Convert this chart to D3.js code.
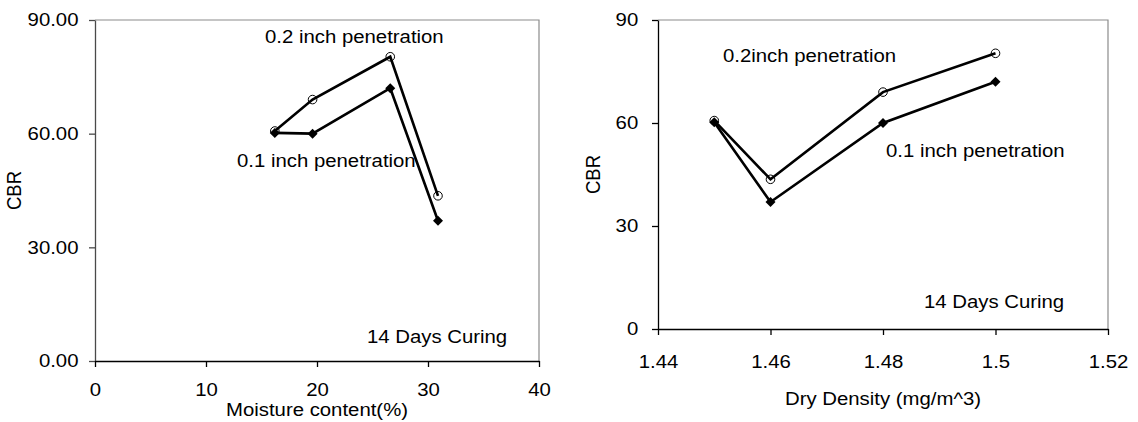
<!DOCTYPE html>
<html>
<head>
<meta charset="utf-8">
<script src="https://cdn.jsdelivr.net/npm/d3@7"></script>
<style>
  body { margin: 0; background: #fff; }
  svg text { font-family: "Liberation Sans", Arial, sans-serif; fill: #000; }
</style>
</head>
<body>
<svg id="chart" width="1138" height="422"></svg>
<script>
// Data
const moisture = [16.2, 19.6, 26.6, 30.9];
const density = [1.45, 1.46, 1.48, 1.50];
// CBR values paired with moisture order
const cbr02Moist = [60.7, 69.0, 80.3, 43.6];
const cbr01Moist = [60.2, 60.0, 72.0, 37.0];
// CBR values paired with density order
const cbr02Dens = [60.7, 43.6, 69.0, 80.3];
const cbr01Dens = [60.2, 37.0, 60.0, 72.0];

const leftYTicks = [0, 30, 60, 90];
const leftXTicks = [0, 10, 20, 30, 40];
const rightYTicks = [0, 30, 60, 90];
const rightXTicks = [1.44, 1.46, 1.48, 1.50, 1.52];

const FS = 18.5;     // font size
const SX = 1.1;      // the picture is slightly stretched horizontally

const svg = d3.select("#chart");

function label(g, x, y, txt, anchor = "start", rotate = false) {
    g.append("text")
        .attr("transform", `translate(${x},${y}) scale(${SX},1)` + (rotate ? " rotate(-90)" : ""))
        .attr("text-anchor", anchor)
        .style("font-size", FS + "px")
        .text(txt);
}

function drawPanel(opt) {
    const { left, right, top, bottom } = opt;
    const x = d3.scaleLinear().domain(opt.xDomain).range([left, right]);
    const y = d3.scaleLinear().domain(opt.yDomain).range([bottom, top]);

    // top and right frame
    svg.append("path")
        .attr("d", `M${left},${top}H${right}V${bottom}`)
        .attr("fill", "none")
        .attr("stroke", "#8c8c8c")
        .attr("stroke-width", 1.2);

    const yAxis = svg.append("g")
        .attr("transform", `translate(${left},0)`)
        .call(d3.axisLeft(y).tickValues(opt.yTicks).tickFormat(opt.yFormat)
            .tickSize(6).tickSizeOuter(0).tickPadding(opt.yPad));
    yAxis.selectAll("path,line").attr("stroke", opt.yAxisColor).attr("stroke-width", 1.3);
    yAxis.selectAll("text")
        .style("font-size", FS + "px")
        .attr("transform", `scale(${SX},1)`);

    const xAxis = svg.append("g")
        .attr("transform", `translate(0,${bottom})`)
        .call(d3.axisBottom(x).tickValues(opt.xTicks).tickFormat(opt.xFormat)
            .tickSize(6).tickSizeOuter(0).tickPadding(opt.xPad));
    xAxis.selectAll("path,line").attr("stroke", "#000").attr("stroke-width", 1.3);
    xAxis.selectAll("text")
        .style("font-size", FS + "px")
        .attr("transform", `scale(${SX},1)`);
    yAxis.attr("font-family", null).attr("font-size", null);
    xAxis.attr("font-family", null).attr("font-size", null);

    const line = d3.line().x(d => x(d[0])).y(d => y(d[1]));

    opt.series.forEach(s => {
        const pts = opt.xs.map((v, i) => [v, s.values[i]]);
        svg.append("path")
            .datum(pts)
            .attr("d", line)
            .attr("fill", "none")
            .attr("stroke", "#000")
            .attr("stroke-width", 2.6)
            .attr("stroke-linejoin", "miter");
        if (s.marker === "circle") {
            svg.selectAll(null).data(pts).enter().append("circle")
                .attr("cx", d => x(d[0]))
                .attr("cy", d => y(d[1]))
                .attr("r", 4.3)
                .attr("fill", "none")
                .attr("stroke", "#000")
                .attr("stroke-width", 1);
        } else {
            svg.selectAll(null).data(pts).enter().append("path")
                .attr("transform", d => `translate(${x(d[0])},${y(d[1])})`)
                .attr("d", "M0,-5L5,0L0,5L-5,0Z")
                .attr("fill", "#000");
        }
    });

    opt.notes.forEach(n => label(svg, n[0], n[1], n[2]));
    label(svg, (left + right) / 2, opt.xTitleY, opt.xTitle, "middle");
    label(svg, opt.yTitleX, (top + bottom) / 2, "CBR", "middle", true);
}

// left panel: CBR vs moisture content
drawPanel({
    left: 95, right: 539, top: 20, bottom: 361,
    xDomain: [0, 40], yDomain: [0, 90],
    xTicks: leftXTicks, yTicks: leftYTicks,
    xFormat: d3.format("d"), yFormat: d3.format(".2f"),
    yPad: 9, xPad: 16, yAxisColor: "#4a4a4a",
    xs: moisture,
    series: [
        { values: cbr02Moist, marker: "circle" },
        { values: cbr01Moist, marker: "diamond" }
    ],
    notes: [
        [265, 43, "0.2 inch penetration"],
        [237, 167, "0.1 inch penetration"],
        [367, 343, "14 Days Curing"]
    ],
    xTitle: "Moisture content(%)", xTitleY: 416,
    yTitleX: 21
});

// right panel: CBR vs dry density
drawPanel({
    left: 658, right: 1108, top: 20, bottom: 329,
    xDomain: [1.44, 1.52], yDomain: [0, 90],
    xTicks: rightXTicks, yTicks: rightYTicks,
    xFormat: d => String(+d.toFixed(2)), yFormat: d3.format("d"),
    yPad: 12, xPad: 20, yAxisColor: "#000",
    xs: density,
    series: [
        { values: cbr02Dens, marker: "circle" },
        { values: cbr01Dens, marker: "diamond" }
    ],
    notes: [
        [723, 62, "0.2inch penetration"],
        [886, 157, "0.1 inch penetration"],
        [924, 308, "14 Days Curing"]
    ],
    xTitle: "Dry Density (mg/m^3)", xTitleY: 405,
    yTitleX: 600
});
</script>
</body>
</html>
